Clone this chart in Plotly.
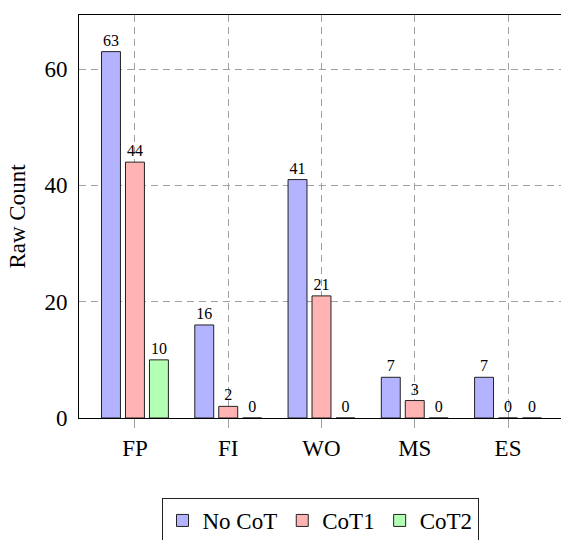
import plotly.graph_objects as go

categories = ["FP", "FI", "WO", "MS", "ES"]
no_cot = [63, 16, 41, 7, 7]
cot1 = [44, 2, 21, 3, 0]
cot2 = [10, 0, 0, 0, 0]
series_names = ["No CoT", "CoT1", "CoT2"]
fill_colors = ["#b3b3ff", "#ffb3b3", "#b3ffb3"]
y_ticks = [0, 20, 40, 60]

SERIF = "Liberation Serif"

fig = go.Figure()
for name, vals, col in zip(series_names, [no_cot, cot1, cot2], fill_colors):
    fig.add_trace(go.Bar(
        x=categories, y=vals, name=name,
        marker=dict(color=col, line=dict(color="#222222", width=1)),
        text=[str(v) for v in vals], textposition="outside",
        textfont=dict(family=SERIF, size=16, color="black"),
        cliponaxis=False,
    ))

grid_kw = dict(showgrid=True, gridcolor="#a0a0a0", gridwidth=1, griddash="7px,5px")

fig.update_layout(
    width=561, height=540,
    margin=dict(l=79, r=0, t=15, b=122, autoexpand=False),
    paper_bgcolor="white", plot_bgcolor="white",
    barmode="group", bargap=0.229, bargroupgap=0.21,
    font=dict(family=SERIF, size=23, color="black"),
    showlegend=True,
    legend=dict(
        orientation="h", x=0.5, xanchor="center", y=-0.1985, yanchor="top",
        bordercolor="#222222", borderwidth=1, bgcolor="white",
        font=dict(family=SERIF, size=23, color="black"),
        itemwidth=30, tracegroupgap=0,
    ),
)
fig.update_xaxes(
    range=[-0.6, 4.568], type="category", automargin=False,
    showline=True, linecolor="black", linewidth=1, mirror=True,
    ticks="outside", ticklen=9, tickcolor="#a0a0a0", tickwidth=1,
    tickfont=dict(family=SERIF, size=23, color="black"),
    zeroline=False, **grid_kw,
)
fig.update_yaxes(
    range=[0, 69.3], tickvals=y_ticks, automargin=False,
    showline=True, linecolor="black", linewidth=1, mirror=False,
    ticks="outside", ticklen=6, tickcolor="rgba(0,0,0,0)",
    tickfont=dict(family=SERIF, size=23, color="black"),
    title=dict(text="Raw Count", standoff=12, font=dict(family=SERIF, size=23, color="black")),
    zeroline=False, **grid_kw,
)

fig.write_html(
    "out.html",
    config={"displayModeBar": False},
    post_script="document.body.style.margin='0';document.body.style.overflow='hidden';",
)
